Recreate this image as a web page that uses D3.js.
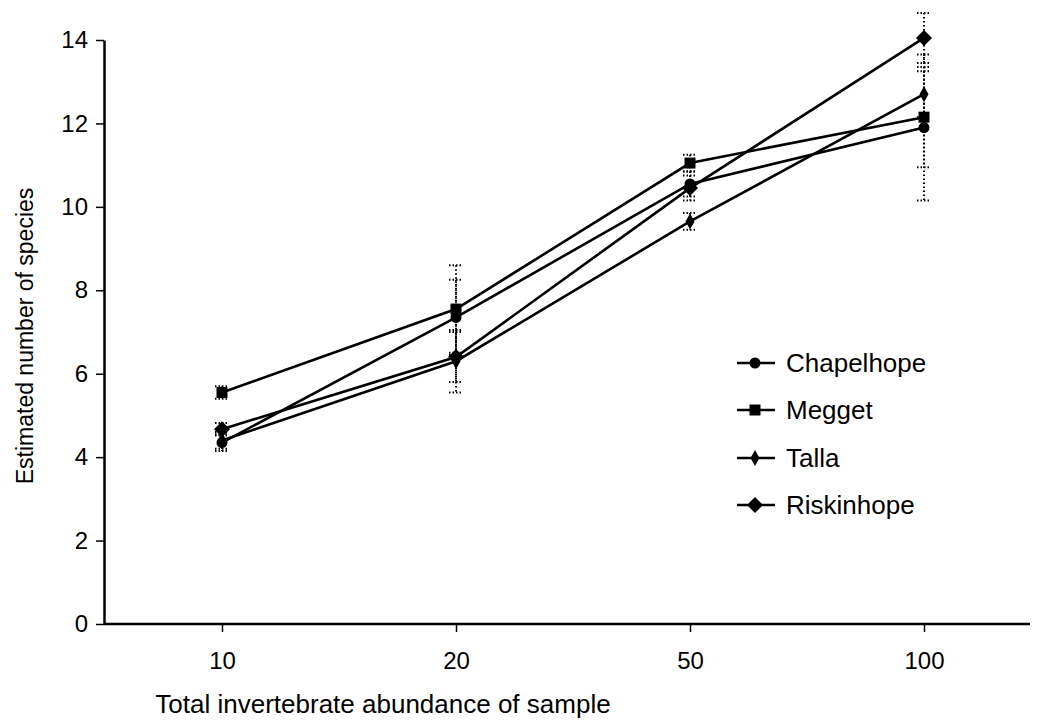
<!DOCTYPE html>
<html>
<head>
<meta charset="utf-8">
<script src="https://cdn.jsdelivr.net/npm/d3@7"></script>
<style>
  html, body { margin: 0; padding: 0; background: #fff; }
  svg { display: block; }
  text { font-family: "Liberation Sans", Arial, Helvetica, sans-serif; fill: #000; }
</style>
</head>
<body>
<svg id="chart" width="1042" height="723"></svg>
<script>
// Sample sizes (categories on the x axis)
const abundance = ["10", "20", "50", "100"];
const yTicks = [0, 2, 4, 6, 8, 10, 12, 14];

// Estimated number of species per site
const chapelhope = [4.35, 7.35, 10.55, 11.9];
const megget     = [5.55, 7.55, 11.05, 12.15];
const talla      = [4.4, 6.3, 9.65, 12.7];
const riskinhope = [4.67, 6.4, 10.45, 14.05];

// Half-widths of the error bars
const chapelhopeErr = [0.2, 0.9, 0.3, 1.75];
const meggetErr     = [0.15, 1.05, 0.2, 1.2];
const tallaErr      = [0.2, 0.75, 0.2, 0.55];
const riskinhopeErr = [0.15, 0.6, 0.3, 0.6];

const seriesNames = ["Chapelhope", "Megget", "Talla", "Riskinhope"];
const seriesValues = [chapelhope, megget, talla, riskinhope];
const seriesErrs = [chapelhopeErr, meggetErr, tallaErr, riskinhopeErr];
const seriesShapes = ["circle", "square", "thinDiamond", "diamond"];

const svg = d3.select("#chart");

const x = d3.scalePoint().domain(abundance).range([222, 924]);
const y = d3.scaleLinear().domain([0, 14]).range([624, 40]);

// marker outlines
function markerPath(shape) {
  const p = d3.path();
  if (shape === "circle") {
    p.arc(0, 0, 5.5, 0, 2 * Math.PI);
  } else if (shape === "square") {
    p.rect(-5.5, -5.5, 11, 11);
  } else if (shape === "thinDiamond") {
    p.moveTo(0, -8); p.lineTo(4.5, 0); p.lineTo(0, 8); p.lineTo(-4.5, 0); p.closePath();
  } else {
    p.moveTo(0, -8); p.lineTo(8, 0); p.lineTo(0, 8); p.lineTo(-8, 0); p.closePath();
  }
  return p.toString();
}

// axes
const yAxis = d3.axisLeft(y).tickValues(yTicks).tickSize(8).tickPadding(8).tickSizeOuter(0);
const gy = svg.append("g").attr("transform", "translate(104,0)").call(yAxis);
gy.select(".domain").attr("stroke", "#000").attr("stroke-width", 2.5);
gy.selectAll(".tick line").attr("stroke", "#000").attr("stroke-width", 1.5);
gy.selectAll(".tick text").style("font-size", "24px").style("font-family", "Liberation Sans, Arial, sans-serif");

const xAxis = d3.axisBottom(x).tickSize(8).tickPadding(20).tickSizeOuter(0);
const gx = svg.append("g").attr("transform", "translate(0,624)").call(xAxis);
gx.select(".domain").remove();
gx.selectAll(".tick line").attr("stroke", "#000").attr("stroke-width", 1.5);
gx.selectAll(".tick text").style("font-size", "24px").style("font-family", "Liberation Sans, Arial, sans-serif");
svg.append("line")
  .attr("x1", 104).attr("x2", 1030)
  .attr("y1", y(0)).attr("y2", y(0))
  .attr("stroke", "#000").attr("stroke-width", 2.5);

// axis titles
svg.append("text")
  .attr("x", 383).attr("y", 713)
  .attr("text-anchor", "middle")
  .style("font-size", "26px")
  .text("Total invertebrate abundance of sample");

svg.append("text")
  .attr("transform", "translate(33,336) rotate(-90)")
  .attr("text-anchor", "middle")
  .style("font-size", "23px")
  .text("Estimated number of species");

// error bars (dotted)
const errG = svg.append("g");
seriesValues.forEach((vals, si) => {
  vals.forEach((v, i) => {
    const cx = x(abundance[i]);
    const lo = v - seriesErrs[si][i];
    const hi = v + seriesErrs[si][i];
    errG.append("line")
      .attr("x1", cx).attr("x2", cx)
      .attr("y1", y(hi)).attr("y2", y(lo))
      .attr("stroke", "#000").attr("stroke-width", 2)
      .attr("stroke-dasharray", "1.5,2.5");
    [lo, hi].forEach(b => {
      errG.append("line")
        .attr("x1", cx - 7).attr("x2", cx + 7)
        .attr("y1", y(b)).attr("y2", y(b))
        .attr("stroke", "#000").attr("stroke-width", 2)
        .attr("stroke-dasharray", "1.5,2");
    });
  });
});

// series lines and markers
const line = d3.line().x((d, i) => x(abundance[i])).y(d => y(d));
seriesValues.forEach((vals, si) => {
  svg.append("path")
    .attr("d", line(vals))
    .attr("fill", "none")
    .attr("stroke", "#000")
    .attr("stroke-width", 2.6);
  svg.append("g").selectAll("path")
    .data(vals)
    .join("path")
    .attr("d", markerPath(seriesShapes[si]))
    .attr("transform", (d, i) => `translate(${x(abundance[i])},${y(d)})`)
    .attr("fill", "#000");
});

// legend
const legendRows = [363, 410, 458, 505];
const lg = svg.append("g");
seriesNames.forEach((name, si) => {
  const ly = legendRows[si];
  lg.append("line")
    .attr("x1", 737).attr("x2", 775)
    .attr("y1", ly).attr("y2", ly)
    .attr("stroke", "#000").attr("stroke-width", 2.4);
  lg.append("path")
    .attr("d", markerPath(seriesShapes[si]))
    .attr("transform", `translate(755,${ly})`)
    .attr("fill", "#000");
  lg.append("text")
    .attr("x", 786).attr("y", ly)
    .attr("dy", "0.36em")
    .style("font-size", "26px")
    .text(name);
});
</script>
</body>
</html>
